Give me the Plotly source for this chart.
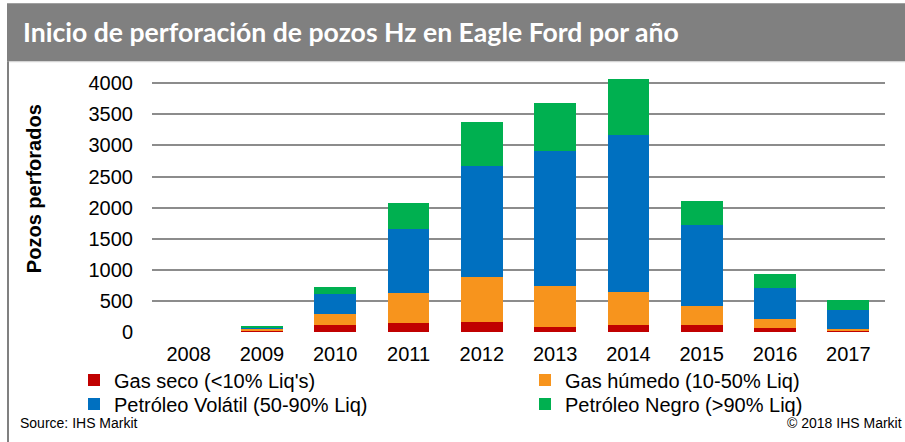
import plotly.graph_objects as go

years = ["2008", "2009", "2010", "2011", "2012", "2013", "2014", "2015", "2016", "2017"]
series_names = ["Gas seco (<10% Liq's)", "Gas húmedo (10-50% Liq)",
                "Petróleo Volátil (50-90% Liq)", "Petróleo Negro (>90% Liq)"]
gas_seco = [0, 30, 110, 140, 155, 75, 120, 120, 60, 10]
gas_humedo = [0, 15, 180, 480, 725, 660, 530, 300, 145, 35]
petroleo_volatil = [0, 35, 320, 1030, 1785, 2170, 2510, 1305, 500, 315]
petroleo_negro = [0, 15, 120, 420, 705, 770, 910, 375, 220, 160]
colors = ["#C00000", "#F7941D", "#0070C0", "#00B050"]
legend_ids = ["legend", "legend2", "legend3", "legend4"]
y_ticks = [0, 500, 1000, 1500, 2000, 2500, 3000, 3500, 4000]
y_max = 4100

W, H = 905, 442
L, R, B = 152, 885, 332
T = B - 249 * y_max / 4000


def px(x):
    return (x - L) / (R - L)


def py(y):
    return (B - y) / (B - T)


fig = go.Figure()
for name, vals, col, lg in zip(series_names, [gas_seco, gas_humedo, petroleo_volatil, petroleo_negro],
                               colors, legend_ids):
    fig.add_trace(go.Bar(x=years, y=vals, name=name, legend=lg,
                         marker=dict(color=col, line=dict(width=0))))

font = "Liberation Sans, Arial, sans-serif"
legend_common = dict(orientation="v", yanchor="middle", xanchor="left", traceorder="normal",
                     itemwidth=30, font=dict(size=20), bgcolor="rgba(0,0,0,0)",
                     itemclick=False)
col_x = [74, 525, 74, 525]
row_y = [380, 380, 404, 404]
legend_layout = {lg: dict(x=px(cx), y=py(ry), **legend_common)
                 for lg, cx, ry in zip(legend_ids, col_x, row_y)}

fig.update_layout(
    width=W, height=H,
    margin=dict(l=L, r=W - R, t=T, b=H - B, pad=0, autoexpand=False),
    barmode="stack", bargap=0.43,
    plot_bgcolor="white", paper_bgcolor="white",
    font=dict(family=font, size=20, color="black"),
    showlegend=True,
    xaxis=dict(showgrid=False, ticks="", showline=False, ticklabelstandoff=8,
               tickfont=dict(size=20)),
    yaxis=dict(range=[0, y_max], tickvals=y_ticks, showgrid=True, gridcolor="#8C8C8C",
               gridwidth=2, zeroline=False, showline=False, ticks="",
               ticklabelstandoff=18, tickfont=dict(size=20)),
    **legend_layout,
)

shapes = [
    dict(type="rect", xref="paper", yref="paper", x0=px(7), x1=px(905), y0=py(61), y1=py(3),
         fillcolor="#808080", line=dict(width=0), layer="below"),
    dict(type="line", xref="paper", yref="paper", x0=px(7), x1=px(905), y0=py(61.5), y1=py(61.5),
         line=dict(color="#D0D0D0", width=1)),
    dict(type="line", xref="paper", yref="paper", x0=px(8), x1=px(8), y0=py(61), y1=py(442),
         line=dict(color="#808080", width=2)),
]
fig.update_layout(shapes=shapes)

annotations = [
    dict(text="<b>Inicio de perforación de pozos Hz en Eagle Ford por año</b>", xref="paper", yref="paper",
         x=px(21), y=py(32), xanchor="left", yanchor="middle", showarrow=False,
         font=dict(family="Lato, Open Sans, sans-serif", size=26.6, color="white")),
    dict(text="<b>Pozos perforados</b>", xref="paper", yref="paper", x=px(34), y=py(189),
         xanchor="center", yanchor="middle", textangle=-90, showarrow=False,
         font=dict(family=font, size=20, color="black")),
    dict(text="Source: IHS Markit", xref="paper", yref="paper", x=px(18), y=py(423),
         xanchor="left", yanchor="middle", showarrow=False,
         font=dict(family=font, size=14, color="black")),
    dict(text="© 2018 IHS Markit", xref="paper", yref="paper", x=px(904), y=py(423),
         xanchor="right", yanchor="middle", showarrow=False,
         font=dict(family=font, size=14, color="black")),
]
fig.update_layout(annotations=annotations)

fig.write_html("out.html", config={"displayModeBar": False},
               post_script="document.body.style.margin='0px';document.body.style.overflow='hidden';")
